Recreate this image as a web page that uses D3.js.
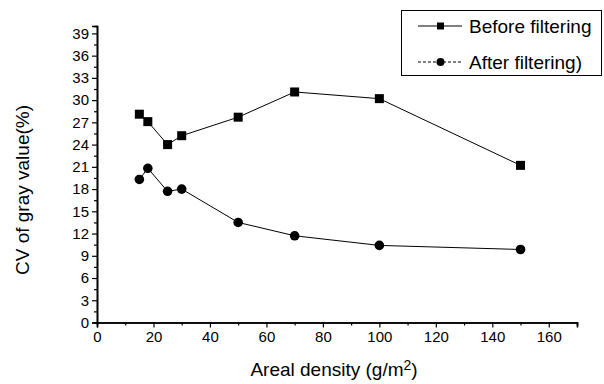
<!DOCTYPE html>
<html>
<head>
<meta charset="utf-8">
<script src="https://cdn.jsdelivr.net/npm/d3@7"></script>
<style>
  body { margin: 0; background: #fff; }
  svg text { font-family: "Liberation Sans", Arial, sans-serif; fill: #000; }
</style>
</head>
<body>
<div id="chart"></div>
<script>
// areal density (g/m2)
const density = [15, 18, 25, 30, 50, 70, 100, 150];
const beforeFiltering = [28.1, 27.1, 24.0, 25.2, 27.7, 31.1, 30.2, 21.2];
const afterFiltering = [19.3, 20.8, 17.7, 18.0, 13.5, 11.7, 10.4, 9.85];
const seriesNames = ["Before filtering", "After filtering)"];
const xTicks = [0, 20, 40, 60, 80, 100, 120, 140, 160];
const yTicks = [0, 3, 6, 9, 12, 15, 18, 21, 24, 27, 30, 33, 36, 39];

const width = 604, height = 384;
const svg = d3.select("#chart").append("svg")
    .attr("width", width)
    .attr("height", height);

const x = d3.scaleLinear().domain([0, 170]).range([97, 577]);
const y = d3.scaleLinear().domain([0, 40]).range([322.5, 26]);

// axes
const xAxis = d3.axisBottom(x).tickValues(xTicks).tickSize(5).tickPadding(4);
const xMinor = d3.axisBottom(x).tickValues(d3.range(10, 171, 20)).tickSize(3).tickFormat("");
const yAxis = d3.axisLeft(y).tickValues(yTicks).tickSize(5).tickPadding(3);
const yMinor = d3.axisLeft(y).tickValues(d3.range(1.5, 40, 3)).tickSize(3).tickFormat("");

function styleAxis(g) {
    g.select(".domain").attr("stroke", "#000").attr("stroke-width", 1.6);
    g.selectAll(".tick line").attr("stroke", "#000").attr("stroke-width", 1.2);
    g.selectAll(".tick text").style("font-size", "15px").attr("fill", "#000");
}

svg.append("g").attr("transform", "translate(0," + y(0) + ")").call(xMinor).call(styleAxis);
svg.append("g").attr("transform", "translate(0," + y(0) + ")").call(xAxis).call(styleAxis);
svg.append("g").attr("transform", "translate(" + x(0) + ",0)").call(yMinor).call(styleAxis);
svg.append("g").attr("transform", "translate(" + x(0) + ",0)").call(yAxis).call(styleAxis);

// axis titles
const xt = svg.append("text")
    .attr("x", 334).attr("y", 376)
    .attr("text-anchor", "middle")
    .style("font-size", "19px")
    .text("Areal density (g/m");
xt.append("tspan").attr("dy", -6).style("font-size", "14px").text("2");
xt.append("tspan").attr("dy", 6).text(")");

svg.append("text")
    .attr("transform", "translate(29,190) rotate(-90)")
    .attr("text-anchor", "middle")
    .style("font-size", "19px")
    .text("CV of gray value(%)");

// series
const line = d3.line().x(d => x(d[0])).y(d => y(d[1]));
const beforePts = density.map((d, i) => [d, beforeFiltering[i]]);
const afterPts = density.map((d, i) => [d, afterFiltering[i]]);

svg.append("path").datum(beforePts)
    .attr("fill", "none").attr("stroke", "#000").attr("stroke-width", 1)
    .attr("d", line);
svg.append("path").datum(afterPts)
    .attr("fill", "none").attr("stroke", "#000").attr("stroke-width", 1)
    .attr("d", line);

svg.selectAll(".sq").data(beforePts).enter().append("rect")
    .attr("x", d => x(d[0]) - 4.5).attr("y", d => y(d[1]) - 4.5)
    .attr("width", 9).attr("height", 9).attr("fill", "#000");
svg.selectAll(".ci").data(afterPts).enter().append("circle")
    .attr("cx", d => x(d[0])).attr("cy", d => y(d[1]))
    .attr("r", 4.8).attr("fill", "#000");

// legend
const lg = svg.append("g");
lg.append("rect")
    .attr("x", 401.5).attr("y", 10.5).attr("width", 200).attr("height", 65)
    .attr("fill", "#fff").attr("stroke", "#000").attr("stroke-width", 1);
const rows = [26, 62];
seriesNames.forEach((name, i) => {
    const ly = rows[i];
    lg.append("line")
        .attr("x1", 418).attr("x2", 462).attr("y1", ly).attr("y2", ly)
        .attr("stroke", "#000").attr("stroke-width", 1)
        .attr("stroke-dasharray", i === 1 ? "3,2" : null);
    if (i === 0) {
        lg.append("rect").attr("x", 437).attr("y", ly - 3.5).attr("width", 7).attr("height", 7).attr("fill", "#000");
    } else {
        lg.append("circle").attr("cx", 440.5).attr("cy", ly).attr("r", 4).attr("fill", "#000");
    }
    lg.append("text")
        .attr("x", 469).attr("y", ly + 7)
        .style("font-size", "19px")
        .text(name);
});
</script>
</body>
</html>
